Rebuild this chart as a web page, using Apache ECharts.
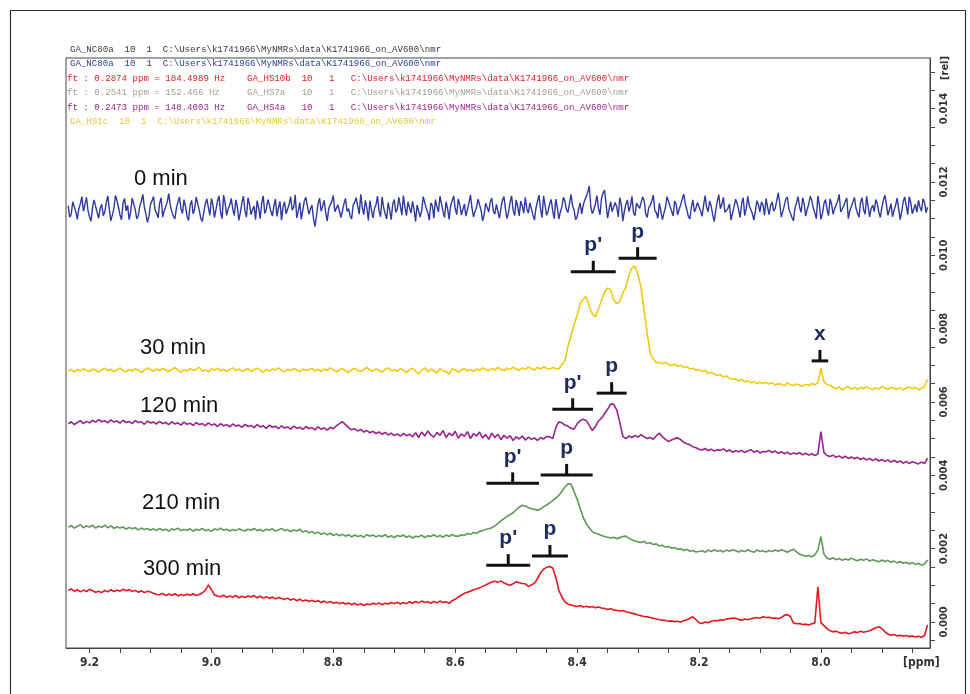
<!DOCTYPE html>
<html>
<head>
<meta charset="utf-8">
<script src="https://cdn.jsdelivr.net/npm/echarts@6/dist/echarts.min.js"></script>
<style>
html,body{margin:0;padding:0;background:#fff;}
#chart{width:970px;height:694px;}
</style>
</head>
<body>
<div id="chart"></div>
<script>
// Sampling of the stacked 1H spectra: first point (ppm) and spacing of each trace
const PPM_START = 9.235;
const traceSteps = [0.0025, 0.005, 0.005, 0.005, 0.005];

// Intensities, units of 1e-5 rel, one value per sampled point
const trace0min = [
1135,1104,1112,1146,1150,1119,1098,1127,1141,1160,1120,1138,1158,1122,1105,1093,1132,1151,1146,1117,
1101,1129,1139,1108,1117,1144,1162,1126,1094,1110,1128,1163,1150,1131,1110,1097,1143,1155,1121,1136,
1097,1118,1156,1140,1125,1099,1108,1134,1147,1166,1131,1112,1090,1106,1138,1149,1160,1124,1115,1102,
1142,1157,1104,1121,1133,1145,1168,1137,1119,1107,1099,1128,1145,1159,1127,1114,1152,1133,1106,1095,
1136,1150,1113,1126,1159,1141,1124,1101,1092,1118,1140,1154,1130,1109,1155,1137,1103,1125,1148,1162,
1118,1100,1164,1142,1109,1127,1137,1155,1126,1108,1151,1133,1095,1117,1143,1161,1121,1104,1157,1139,
1111,1124,1134,1097,1149,1129,1100,1143,1162,1114,1125,1152,1139,1120,1107,1135,1153,1106,1129,1147,
1096,1132,1146,1113,1118,1139,1160,1123,1131,1165,1102,1121,1144,1098,1123,1149,1158,1134,1112,1126,
1137,1099,1078,1110,1141,1156,1120,1134,1150,1116,1093,1128,1132,1147,1163,1119,1115,1138,1140,1103,
1106,1141,1155,1120,1127,1108,1099,1136,1145,1157,1134,1112,1166,1130,1111,1150,1129,1095,1149,1124,
1102,1127,1138,1161,1121,1105,1159,1131,1113,1099,1144,1123,1097,1140,1152,1117,1126,1158,1135,1109,
1163,1131,1108,1146,1130,1115,1147,1125,1092,1137,1139,1104,1122,1160,1157,1128,1116,1096,1143,1135,
1101,1152,1133,1118,1161,1140,1119,1103,1146,1127,1098,1135,1137,1162,1127,1111,1154,1138,1110,1124,
1140,1107,1124,1143,1165,1129,1105,1119,1131,1153,1149,1122,1094,1111,1142,1130,1118,1146,1156,1120,
1112,1139,1136,1101,1128,1150,1160,1126,1100,1117,1145,1162,1123,1108,1151,1133,1107,1148,1134,1115,
1158,1127,1115,1143,1139,1110,1096,1129,1147,1164,1126,1103,1162,1136,1109,1121,1141,1152,1120,1100,
1153,1130,1099,1118,1132,1158,1148,1124,1117,1141,1166,1135,1124,1097,1104,1127,1143,1113,1137,1150,
1160,1172,1189,1131,1114,1125,1140,1163,1128,1110,1155,1169,1178,1140,1101,1126,1146,1119,1122,1144,
1132,1105,1157,1138,1093,1120,1139,1151,1119,1134,1161,1116,1108,1142,1144,1128,1127,1159,1150,1113,
1103,1129,1136,1148,1164,1122,1116,1101,1142,1137,1097,1115,1131,1160,1156,1133,1121,1107,1148,1139,
1110,1126,1138,1153,1167,1140,1125,1106,1099,1131,1151,1118,1129,1144,1145,1121,1106,1136,1163,1130,
1119,1148,1134,1110,1092,1123,1147,1165,1127,1139,1158,1117,1113,1128,1140,1096,1101,1132,1153,1142,
1124,1103,1142,1157,1108,1127,1161,1135,1130,1114,1096,1121,1149,1138,1118,1146,1137,1109,1155,1131,
1111,1136,1145,1120,1128,1149,1170,1142,1104,1119,1136,1153,1159,1126,1121,1103,1094,1130,1143,1160,
1132,1117,1157,1140,1107,1125,1139,1161,1150,1129,1116,1100,1162,1137,1098,1113,1141,1152,1126,1108,
1154,1139,1112,1127,1138,1148,1166,1118,1120,1135,1147,1156,1100,1122,1133,1145,1158,1129,1115,1104,
1144,1157,1125,1112,1161,1133,1105,1127,1137,1119,1152,1141,1118,1103,1130,1150,1164,1138,1109,1124,
1141,1105,1123,1136,1156,1128,1097,1118,1146,1159,1134,1111,1160,1143,1113,1127,1139,1117,1150,1132,
1120,1154,1145,1116,1131
];

const trace30min = [
684,689,682,688,685,691,686,683,690,687,
681,688,692,685,689,683,687,693,686,682,
689,684,691,686,680,687,693,688,684,690,
685,692,687,683,689,694,686,681,688,684,
691,686,689,695,684,688,682,690,687,692,
685,689,683,688,693,686,690,684,687,691,
683,688,692,686,681,689,684,690,687,693,
686,682,689,685,691,687,683,690,686,688,
692,684,689,683,690,686,693,688,682,687,
691,685,680,688,692,686,683,689,694,687,
684,690,686,681,689,693,685,688,683,691,
686,680,688,692,684,677,687,693,682,689,
685,679,691,686,683,676,690,688,681,687,
692,684,689,683,690,686,693,688,685,691,
687,694,689,685,692,688,695,690,686,693,
689,695,691,687,694,690,696,692,689,694,691,
690,702,711,752,780,811,836,868,880,887,
860,840,832,854,876,900,911,905,878,868,
874,897,913,947,966,971,946,912,848,787,
733,717,707,708,
704,708,702,699,703,697,700,694,696,690,692,686,688,
683,686,678,681,676,672,675,668,671,664,662,
663,657,661,655,658,652,656,650,654,651,653,
649,653,646,650,648,644,652,647,645,649,646,
643,648,645,650,647,652,
692,
655,648,
644,640,636,641,633,638,642,635,639,634,640,
636,641,637,633,639,635,642,638,634,640,637,
635,639,633,638,641,636,640,634,637,642,662
];

const trace120min = [
540,546,538,544,549,541,547,543,550,545,
552,546,549,543,551,545,548,542,550,544,
547,541,549,544,546,539,548,543,545,540,
547,541,544,538,546,540,543,537,545,539,
542,536,544,538,541,535,543,537,540,533,
541,535,538,532,540,534,537,531,539,533,
536,530,538,532,535,528,537,531,534,527,
535,529,532,526,534,528,531,525,533,527,
530,524,532,526,529,523,531,527,535,541,
546,538,530,524,527,521,525,518,522,516,
520,514,518,512,517,510,515,508,513,507,
514,508,512,505,516,503,518,507,521,510,
504,517,509,522,503,515,508,520,501,513,
506,519,500,514,507,518,502,511,498,515,
503,512,497,509,501,508,495,505,499,507,
496,504,498,502,495,503,499,506,
505,500,530,546,543,537,534,528,526,540,
549,553,549,536,522,533,548,556,568,580,
594,594,578,545,506,500,507,503,509,504,
511,505,500,503,498,508,515,505,498,492,
496,500,502,497,490,486,483,478,475,471,
469,473,467,471,466,470,468,472,465,469,463,467,
464,468,462,466,470,463,467,461,465,464,
468,462,466,460,464,459,463,457,461,458,
462,456,460,455,459,454,458,
519,
462,454,
451,455,449,453,447,452,446,450,445,449,
443,447,442,446,440,445,439,443,438,442,
436,441,435,439,433,438,432,437,434,431,
436,432,447
];

const trace210min = [
258,263,256,261,265,257,262,259,264,256,
261,258,264,257,262,255,260,256,259,253,
258,254,257,251,256,252,255,250,254,249,
255,250,253,248,254,251,256,249,252,250,
254,248,253,250,255,249,252,247,254,251,
256,250,253,248,252,249,254,251,248,253,
250,255,249,252,247,253,250,254,248,251,
255,249,252,246,251,248,253,245,249,243,
247,241,245,239,243,238,242,236,240,235,
239,234,238,232,237,233,236,231,238,234,
237,232,236,233,238,231,235,230,236,233,
237,231,235,229,234,232,237,230,235,233,
238,232,236,231,237,233,239,234,
234,238,236,241,239,244,242,247,249,252,
254,257,262,268,276,282,288,293,298,306,
313,318,316,312,309,307,305,308,314,319,
325,331,338,345,356,368,377,376,356,335,
310,285,268,257,246,242,239,236,233,231,
229,231,227,230,233,234,228,224,221,219,
217,220,214,216,211,213,207,209,204,206,
201,203,198,200,195,198,193,195,191,192,
194,190,196,192,197,193,195,191,196,193,197,194,
191,195,192,197,193,190,196,192,194,191,
195,192,196,193,197,194,190,195,198,191,
185,182,179,181,178,183,
196,233,185,174,
171,175,170,173,168,172,169,174,170,167,
171,168,172,166,170,167,164,169,165,168,
163,166,161,165,160,163,158,162,157,160,
155,158,169
];

const trace300min = [
86,90,84,88,82,87,83,89,85,81,
84,80,86,82,88,83,87,84,89,85,
88,84,86,81,85,80,84,82,78,75,
74,78,72,76,73,77,71,75,72,76,
73,77,72,75,79,86,101,88,74,70,
69,73,67,71,68,72,66,70,67,71,
68,72,66,70,65,69,64,68,63,67,
64,61,65,60,63,58,62,57,60,56,
59,55,58,53,57,52,56,51,54,50,
53,49,52,47,51,46,50,45,49,47,
51,48,52,47,51,49,53,50,54,49,
53,50,55,51,56,52,57,53,55,51,
56,52,57,53,55,51,58,62,68,73,
78,81,84,88,90,93,97,101,105,109,
111,108,112,106,103,100,104,110,107,105,
104,97,101,106,118,134,144,149,151,147,122,86,68,55,49,46,
44,42,45,41,43,40,42,39,41,38,
37,34,36,33,32,30,31,28,26,24,
22,19,17,15,14,12,10,8,6,5,
4,2,3,1,2,0,3,6,10,14,
6,-2,-4,0,-2,2,4,3,6,5,
8,9,11,10,7,5,8,6,9,11,
12,10,14,12,13,10,11,9,12,18,
20,15,-3,-5,-4,-7,-6,-8,-5,-3,
96,
-2,-10,
-18,-24,-27,-25,-29,-31,-28,-32,-30,-27,
-29,-25,-28,-26,-24,-20,-16,-13,-18,-27,
-33,-36,-34,-38,-36,-39,-37,-40,-38,-41,
-39,-42,-37,-8
];

// Trace names, colours and line widths
const traceNames = ['0 min', '30 min', '120 min', '210 min', '300 min'];
const traceColors = ['#2e3a9f', '#f2c812', '#9b2190', '#5c9a55', '#e6161e'];
const traceWidths = [1.4, 1.6, 1.6, 1.6, 1.6];
const traceValues = [trace0min, trace30min, trace120min, trace210min, trace300min];

// Axis ticks and labels
const ppmLabels = [9.2, 9.0, 8.8, 8.6, 8.4, 8.2, 8.0];
const ppmTicks = [9.2,9.15,9.1,9.05,9.0,8.95,8.9,8.85,8.8,8.75,8.7,8.65,8.6,8.55,8.5,8.45,8.4,8.35,8.3,8.25,8.2,8.15,8.1,8.05,8.0,7.95,7.9,7.85];
const relLabels = [0, 0.002, 0.004, 0.006, 0.008, 0.010, 0.012, 0.014];
const relTicks = [-0.0005,0,0.0005,0.001,0.0015,0.002,0.0025,0.003,0.0035,0.004,0.0045,0.005,0.0055,0.006,0.0065,0.007,0.0075,0.008,0.0085,0.009,0.0095,0.01,0.0105,0.011,0.0115,0.012,0.0125,0.013,0.0135,0.014,0.0145,0.015];

// Peak assignment brackets: centre (ppm), level (rel), half width (ppm), label
const bracketCentre = [8.3735, 8.3007, 8.0016, 8.4073, 8.3433, 8.5057, 8.4172, 8.5130, 8.4446];
const bracketLevel  = [0.00955, 0.00992, 0.00712, 0.00580, 0.00624, 0.00378, 0.00401, 0.00155, 0.00180];
const bracketHalf   = [0.0369, 0.0312, 0.0136, 0.0333, 0.0246, 0.0431, 0.0427, 0.0361, 0.0295];
const bracketText   = ["p'", 'p', 'x', "p'", 'p', "p'", 'p', "p'", 'p'];

// Acquisition header lines
const PATH = 'C:\\Users\\k1741966\\MyNMRs\\data\\K1741966_on_AV600\\nmr';
const headerLines = [
  'GA_NC80a  10  1  ' + PATH,
  'GA_NC80a  10  1  ' + PATH,
  'ft : 0.2874 ppm = 184.4989 Hz    GA_HS10b  10   1   ' + PATH,
  'ft : 0.2541 ppm = 152.466 Hz     GA_HS7a   10   1   ' + PATH,
  'ft : 0.2473 ppm = 148.4003 Hz    GA_HS4a   10   1   ' + PATH,
  'GA_HS1c  10  1  ' + PATH
];
const headerColors = ['#3a3a3a', '#2e3a9f', '#e0202a', '#9aa592', '#9b2a8c', '#e8c832'];

const chart = echarts.init(document.getElementById('chart'), null, {renderer: 'canvas'});

const axisFont = "'Liberation Sans Narrow', 'DejaVu Sans Condensed', 'Arial Narrow', sans-serif";
const textFont = "'Liberation Sans', Arial, sans-serif";

const lineSeries = traceValues.map((vals, k) => ({
  name: traceNames[k],
  type: 'line',
  data: vals.map((v, i) => [+(PPM_START - i * traceSteps[k]).toFixed(5), v / 1e5]),
  showSymbol: false,
  symbol: 'none',
  silent: true,
  animation: false,
  lineStyle: {color: traceColors[k], width: traceWidths[k]},
  z: 2
}));

const bracketSeries = {
  type: 'custom',
  silent: true,
  animation: false,
  z: 5,
  data: bracketCentre.map((c, i) => [c, bracketLevel[i], bracketHalf[i]]),
  renderItem: (params, api) => {
    const c = api.value(0), lvl = api.value(1), hw = api.value(2);
    const L = api.coord([c + hw, lvl]);
    const R = api.coord([c - hw, lvl]);
    const C = api.coord([c, lvl]);
    return {
      type: 'group',
      children: [
        {type: 'line', shape: {x1: L[0], y1: C[1], x2: R[0], y2: C[1]}, style: {stroke: '#111', lineWidth: 3}},
        {type: 'line', shape: {x1: C[0], y1: C[1], x2: C[0], y2: C[1] - 11}, style: {stroke: '#111', lineWidth: 3}},
        {type: 'text', x: C[0], y: C[1] - 16,
         style: {text: bracketText[params.dataIndex], fill: '#1d2a5e',
                 font: 'bold 21px ' + textFont, align: 'center', verticalAlign: 'bottom'}}
      ]
    };
  }
};

const traceLabelPos = [[134, 179], [140, 348], [140, 406], [142, 503], [143, 569]];

const graphics = [
  {type: 'rect', silent: true, shape: {x: 10.5, y: 10.5, width: 955, height: 700},
   style: {fill: 'none', stroke: '#333', lineWidth: 1.2}},
  {type: 'text', silent: true, x: 903, y: 663,
   style: {text: '[ppm]', font: 'bold 12px ' + axisFont, fill: '#333', verticalAlign: 'middle'}},
  {type: 'text', silent: true, x: 945, y: 68, rotation: Math.PI / 2,
   style: {text: '[rel]', font: 'bold 11px ' + axisFont, fill: '#333', align: 'center', verticalAlign: 'middle'}}
];
const headerY = [50, 64, 79, 93, 108, 122];
headerLines.forEach((t, i) => {
  graphics.push({type: 'text', silent: true, x: i >= 2 && i <= 4 ? 67 : 70, y: headerY[i],
    style: {text: t, font: "9.1px 'Liberation Mono', 'DejaVu Sans Mono', monospace", fill: headerColors[i], verticalAlign: 'middle'}});
});
traceNames.forEach((t, i) => {
  graphics.push({type: 'text', silent: true, x: traceLabelPos[i][0], y: traceLabelPos[i][1],
    style: {text: t, font: '22px ' + textFont, fill: '#111', verticalAlign: 'middle'}});
});

chart.setOption({
  animation: false,
  backgroundColor: '#fff',
  grid: {left: 66, right: 40, top: 58, bottom: 46, show: true, borderColor: '#444', borderWidth: 1, backgroundColor: 'transparent'},
  xAxis: {
    type: 'value', inverse: true, min: 7.821, max: 9.2386,
    axisLine: {show: true, onZero: false, lineStyle: {color: '#444', width: 1}},
    axisTick: {show: true, inside: false, length: 5, customValues: ppmTicks, lineStyle: {color: '#444'}},
    axisLabel: {show: true, customValues: ppmLabels, margin: 9, color: '#333',
      fontFamily: axisFont, fontWeight: 'bold', fontSize: 12, formatter: v => v.toFixed(1)},
    splitLine: {show: false}
  },
  yAxis: {
    type: 'value', position: 'right', min: -0.00071, max: 0.01538,
    axisLine: {show: true, onZero: false, lineStyle: {color: '#444', width: 1}},
    axisTick: {show: true, inside: false, length: 5, customValues: relTicks, lineStyle: {color: '#444'}},
    axisLabel: {show: true, customValues: relLabels, rotate: 90, margin: 9, color: '#333',
      fontFamily: axisFont, fontWeight: 'bold', fontSize: 11, formatter: v => v.toFixed(3)},
    splitLine: {show: false}
  },
  series: lineSeries.concat([bracketSeries]),
  graphic: graphics
});
</script>
</body>
</html>
